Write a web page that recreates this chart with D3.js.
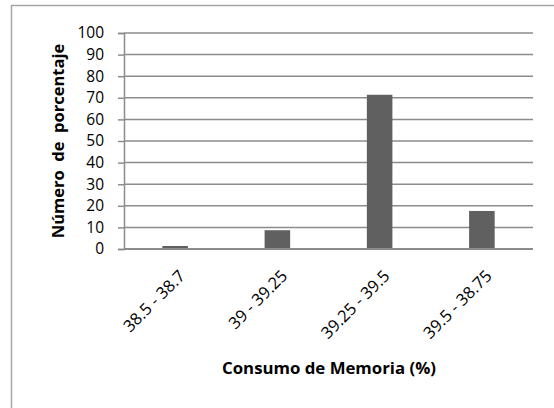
<!DOCTYPE html>
<html>
<head>
<meta charset="utf-8">
<script src="https://cdn.jsdelivr.net/npm/d3@7"></script>
<style>
  html, body { margin: 0; padding: 0; background: #fff; }
  svg { display: block; }
  text { font-family: "Open Sans", "Noto Sans", sans-serif; fill: #000; }
</style>
</head>
<body>
<svg id="chart" width="554" height="408"></svg>
<script>
// Memory consumption ranges and the share of samples in each
const categories = ["38.5 - 38.7", "39 - 39.25", "39.25 - 39.5", "39.5 - 38.75"];
const values = [1.4, 8.7, 71.4, 17.6];
const yTicks = [0, 10, 20, 30, 40, 50, 60, 70, 80, 90, 100];
const xTitle = "Consumo de Memoria (%)";
const yTitle = "Número  de  porcentaje";

const svg = d3.select("#chart");
const W = 554, H = 408;
const m = { left: 124, right: 21, top: 33, bottom: 159 };
const plotW = W - m.left - m.right;
const plotH = H - m.top - m.bottom;

// chart frame
svg.append("rect")
  .attr("x", 11.5).attr("y", 5.5)
  .attr("width", W + 20).attr("height", H + 20)
  .attr("fill", "none").attr("stroke", "#a6a6a6").attr("stroke-width", 1.5);

const x = d3.scaleBand().domain(categories).range([0, plotW])
  .paddingInner(0.75).paddingOuter(0.375);
const y = d3.scaleLinear().domain([0, 100]).range([plotH, 0]);

const g = svg.append("g").attr("transform", `translate(${m.left},${m.top})`);

// horizontal gridlines
g.append("g").selectAll("line").data(yTicks.filter(d => d > 0)).join("line")
  .attr("x1", 0).attr("x2", plotW)
  .attr("y1", d => y(d)).attr("y2", d => y(d))
  .attr("stroke", "#8c8c8c").attr("stroke-width", 1.5);

// bars
g.append("g").selectAll("rect").data(values).join("rect")
  .attr("x", (d, i) => x(categories[i]))
  .attr("y", d => y(d))
  .attr("width", x.bandwidth())
  .attr("height", d => y(0) - y(d))
  .attr("fill", "#606060");

// y axis
const yAxis = g.append("g")
  .call(d3.axisLeft(y).tickValues(yTicks).tickSize(6).tickPadding(14));
yAxis.select(".domain").attr("stroke", "#8c8c8c").attr("stroke-width", 1.5);
yAxis.selectAll(".tick line").attr("stroke", "#8c8c8c").attr("stroke-width", 1.5);
yAxis.selectAll(".tick text").attr("font-size", 15.5).attr("font-family", "'Open Sans', sans-serif").attr("fill", "#000");

// x axis baseline
g.append("line")
  .attr("x1", 0).attr("x2", plotW)
  .attr("y1", y(0)).attr("y2", y(0))
  .attr("stroke", "#8c8c8c").attr("stroke-width", 2);

// x category labels, rotated
g.append("g").selectAll("text").data(categories).join("text")
  .attr("transform", d => `translate(${x(d) + x.bandwidth() / 2 + 11},${plotH + 28}) rotate(-45)`)
  .attr("text-anchor", "end")
  .attr("font-size", 16.5)
  .text(d => d);

// axis titles
svg.append("text")
  .attr("x", 329).attr("y", 374)
  .attr("text-anchor", "middle")
  .attr("font-size", 16.8).attr("font-weight", "bold")
  .text(xTitle);

svg.append("text")
  .attr("transform", `translate(64,${m.top + plotH / 2}) rotate(-90)`)
  .attr("text-anchor", "middle")
  .attr("font-size", 16.5).attr("font-weight", "bold")
  .style("white-space", "pre")
  .text(yTitle);
</script>
</body>
</html>
